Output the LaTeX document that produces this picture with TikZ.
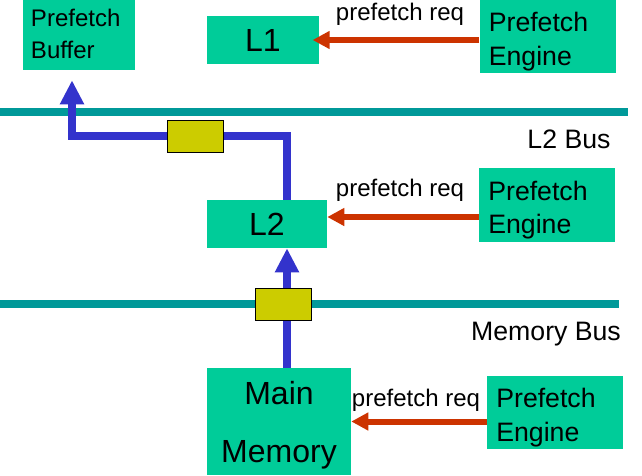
\documentclass[tikz,border=0pt]{standalone}
\usepackage{fontspec}
\setmainfont{Liberation Sans}
\usetikzlibrary{arrows.meta}
\definecolor{boxgreen}{RGB}{0,204,153}
\definecolor{busteal}{RGB}{0,153,153}
\definecolor{pathblue}{RGB}{51,51,204}
\definecolor{reqred}{RGB}{204,51,0}
\definecolor{latchyellow}{RGB}{204,204,0}

\begin{document}
\begin{tikzpicture}[x=0.75pt,y=-0.75pt,
    box/.style={fill=boxgreen,inner sep=0pt},
    engine/.style={box,minimum width=102pt,minimum height=55pt,text width=88pt,align=left,
      font=\fontsize{20}{25}\selectfont,text depth=21.7pt},
    cache/.style={box,minimum height=36pt,font=\fontsize{24}{29}\selectfont},
    latch/.style={fill=latchyellow,draw=black,line width=0.75pt,minimum width=42pt,minimum height=24pt,inner sep=0pt},
    bus/.style={draw=busteal,line width=6pt},
    datapath/.style={draw=pathblue,line width=6pt,-{Triangle[length=18pt,width=17pt]}},
    req/.style={draw=reqred,line width=4.5pt,-{Triangle[length=12.75pt,width=12.75pt]}},
    lbl/.style={font=\fontsize{18}{22}\selectfont},
    buslbl/.style={font=\fontsize{20}{24}\selectfont}]
      \useasboundingbox (0,0) rectangle (642,475);

      % buses
      \draw[bus] (0,112) coordinate (l2busw) -- (628,112) coordinate (l2buse);
      \draw[bus] (0,304) coordinate (membusw) -- (619,304) coordinate (membuse);
      \node[buslbl](l2buslbl) at (569,139) {L2 Bus};
      \node[buslbl](membuslbl) at (546,334) {Memory Bus};

      % caches and memory
      \node[box,minimum width=84pt,minimum height=52.5pt,text width=72pt,align=left,
        font=\fontsize{18}{24}\selectfont,text depth=25.5pt](PB) at (79,35) {Prefetch\\Buffer};
      \node[cache,minimum width=84pt](L1) at (263,40) {L1};
      \node[cache,minimum width=90pt](L2) at (267,224) {L2};
      \node[box,minimum width=108pt,minimum height=80.25pt,align=center,
        font=\fontsize{24}{43.5}\selectfont,text depth=-4.5pt](MM) at (279,421.5) {Main\\Memory};

      % prefetch engines
      \node[engine](PE1) at (547.5,36.5) {Prefetch\\Engine};
      \node[engine](PE2) at (547,205) {Prefetch\\Engine};
      \node[engine](PE3) at (555,412.5) {Prefetch\\Engine};

      % data path
      \coordinate (busx) at (287,0);
      \coordinate (pbturn) at (72,136);
      \draw[datapath,shorten >=7.5pt] (L2.north -| busx) |- (pbturn) -- (PB.south -| pbturn);
      \draw[datapath] (MM.north -| busx) -- (L2.south -| busx);
      \node[latch](latchL2) at (195,136) {};
      \node[latch](latchmem) at (283.5,304.5) {};

      % prefetch requests
      \coordinate (req2) at ([yshift=5.25pt]L2.east);
      \draw[req,shorten >=-5pt] (PE1.west |- L1) -- (L1.east);
      \draw[req] (PE2.west |- req2) -- (req2);
      \draw[req] (PE3.west |- MM) -- (MM.east);
      \node[lbl](req1lbl) at (400,14) {prefetch req};
      \node[lbl](req2lbl) at (400,190) {prefetch req};
      \node[lbl](req3lbl) at (416,400) {prefetch req};
\end{tikzpicture}
\end{document}
